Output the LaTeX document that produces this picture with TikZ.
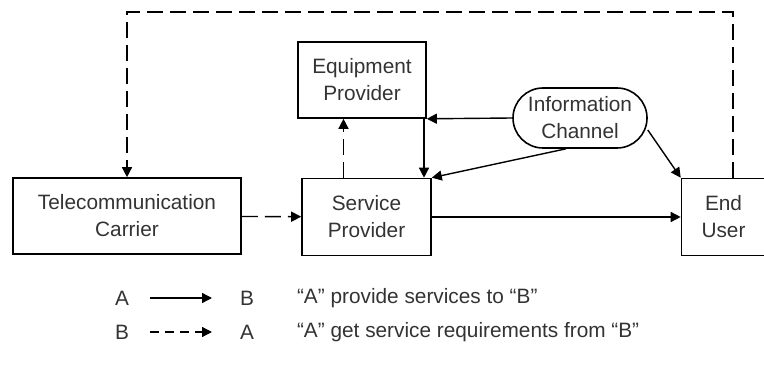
\documentclass[tikz,border=0pt]{standalone}
\usepackage{fontspec}
\setmainfont{Liberation Sans}
\usetikzlibrary{arrows.meta}
\begin{document}
\begin{tikzpicture}[x=0.5pt, y=-0.5pt,
    every node/.style={font=\fontsize{10.4pt}{13.5pt}\selectfont, text=black!80},
    box/.style={draw, line width=0.8pt, inner sep=0pt, align=center},
    prov/.style={line width=0.7pt, -{Triangle[length=5pt, width=5pt]}},
    req/.style={prov, dash pattern=on 8pt off 3.5pt}]
  \useasboundingbox (0, 0) rectangle (764, 373);
  \clip (0, 0) rectangle (764, 373);

  \node[box, minimum width=114pt, minimum height=38pt] (tele) at (127, 216) {Telecommunication\\Carrier};
  \node[box, minimum width=64.5pt, minimum height=38.5pt] (serv) at (366.5, 217) {Service\\Provider};
  \node[box, minimum width=64pt, minimum height=38pt] (equip) at (362, 80) {Equipment\\Provider};
  \node[box, rounded corners=15pt, minimum width=67pt, minimum height=30pt] (info) at (580, 118) {Information\\Channel};
  \node[box, minimum width=42pt, minimum height=38.5pt] (user) at (723.5, 217) {End\\User};

  % dashed: requirements
  \coordinate (ul) at (127, 12);
  \coordinate (ur) at (733, 12);
  \draw[req] (user.north -| ur) -- (ur) -- (ul) -- (tele.north);
  \draw[req] (tele) -- (serv);
  \draw[req] ([xshift=-11.5]serv.north) -- ([xshift=-11.5]serv.north |- equip.south);

  % solid: services
  \draw[prov] ([xshift=31]equip.south) -- ([xshift=31]equip.south |- serv.north);
  \draw[prov] (info.west) -- (equip.south east);
  \draw[prov] ([xshift=-7]info.south) -- (serv.north east);
  \draw[prov] ([yshift=-6]info.east) -- (user.north west);
  \draw[prov] (serv) -- (user);

  % legend
  \node (a1) at (122, 298) {A};
  \node (b1) at (247, 298) {B};
  \draw[prov, shorten <=14pt, shorten >=17.5pt] (a1.center) -- (b1.center);
  \node[anchor=west] at (290, 298) {“A” provide services to “B”};

  \node (b2) at (122, 332) {B};
  \node (a2) at (247, 332) {A};
  \draw[prov, dash pattern=on 4.5pt off 3pt, shorten <=14pt, shorten >=17.5pt] (b2.center) -- (a2.center);
  \node[anchor=west] at (290, 332) {“A” get service requirements from “B”};
\end{tikzpicture}
\end{document}
